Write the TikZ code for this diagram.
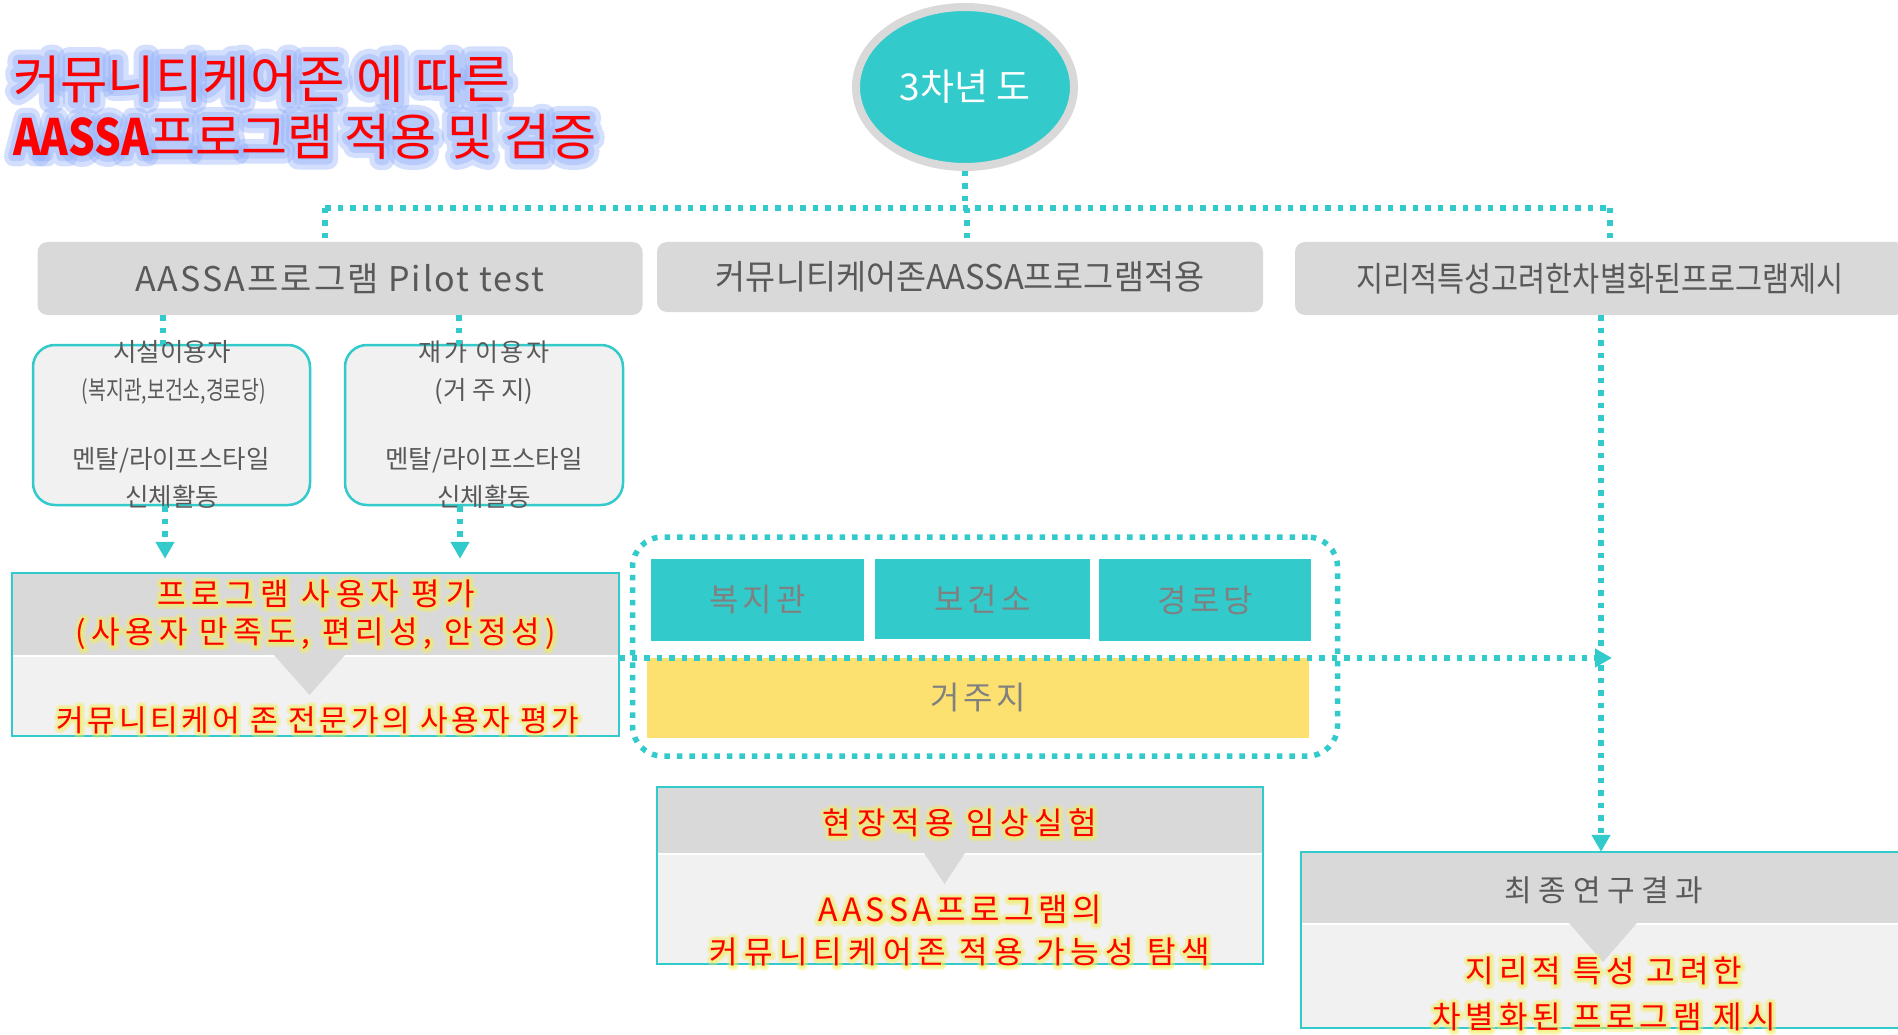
\documentclass[tikz,border=0pt]{standalone}
\usepackage{fontspec}
\usepackage{graphicx}
\setmainfont{Noto Sans CJK KR}
\usetikzlibrary{arrows.meta,calc,shapes.geometric,backgrounds}
\definecolor{teal1}{RGB}{51,202,204}
\definecolor{hdrgrey}{RGB}{217,217,217}
\definecolor{lightgrey}{RGB}{241,241,241}
\definecolor{txtgrey}{RGB}{89,89,89}
\definecolor{midgrey}{RGB}{128,128,128}
\definecolor{ylw}{RGB}{252,224,112}
\definecolor{glowy}{RGB}{242,238,90}
\definecolor{glowb}{RGB}{145,175,250}
\definecolor{redtxt}{RGB}{255,0,0}
% 1 name, 2 pos, 3 anchor, 4 glow colour, 5 wide bold, 6 narrow bold, 7 opacity, 8 font, 9 text
\newcommand{\glowtext}[9]{%
  \node[anchor=#3, text=#4, opacity=#7, line join=round, font=#8\addfontfeature{FakeBold=#5}, inner sep=0pt] at (#2) {#9};
  \node[anchor=#3, text=#4, opacity=#7, line join=round, font=#8\addfontfeature{FakeBold=#6}, inner sep=0pt] at (#2) {#9};
  \node[anchor=#3, text=redtxt, font=#8, inner sep=0pt] (#1) at (#2) {#9};}
\tikzset{
  dotline/.style={draw=teal1, line width=5.5pt, dash pattern=on 5.5pt off 7pt},
  dotarrow/.style={dotline, -{Triangle[width=18pt,length=17pt]}},
  hdr/.style={fill=hdrgrey, rounded corners=10pt, text=txtgrey, font=\fontsize{34}{40}\selectfont, inner sep=0pt},
  subbox/.style={fill=lightgrey, draw=teal1, line width=2.5pt, rounded corners=22pt, inner sep=0pt},
  subtxt/.style={text=txtgrey, font=\fontsize{25.5}{30}\selectfont, inner sep=0pt},
  tealbox/.style={fill=teal1, text=midgrey, font=\fontsize{32}{38}\selectfont\addfontfeature{LetterSpace=12}, inner sep=0pt},
  panel/.style={fill=lightgrey, inner sep=0pt},
  panelborder/.style={draw=teal1, line width=2.5pt},
}
\begin{document}
\begin{tikzpicture}[x=1pt,y=-1pt]
\useasboundingbox[fill=white] (0,0) rectangle (1898,1035);

% title
\glowtext{t1}{13,79}{west}{glowb}{42}{22}{0.4}{\fontsize{51.5}{56}\selectfont}{커뮤니티케어존 에 따른}
\glowtext{t2}{13,137}{west}{glowb}{42}{22}{0.4}{\fontsize{50}{56}\selectfont}{\scalebox{0.84}[1]{\bfseries AASSA}프로그램 적용 및 검증}

% year ellipse
\node[ellipse, fill=teal1, draw=hdrgrey, line width=8pt, minimum width=218pt, minimum height=160pt, inner sep=0pt,
      text=white, font=\fontsize{37}{44}\selectfont] (yr) at (965,87) {3차년 도};

% headers
\node[hdr, minimum width=605pt, minimum height=73pt] (h1) at (340,278.5) {\addfontfeature{LetterSpace=6}AASSA프로그램 Pilot test};
\node[hdr, minimum width=606pt, minimum height=70pt] (h2) at (960,277) {\scalebox{0.96}[1]{커뮤니티케어존AASSA프로그램적용}};
\node[hdr, minimum width=610pt, minimum height=73pt] (h3) at (1600,278.5) {\scalebox{0.865}[1]{지리적특성고려한차별화된프로그램제시}};

% bus coordinates
\coordinate (busL) at (325,208);
\coordinate (busR) at (1610,208);
\coordinate (busM) at (967,208);
\draw[dotline] (yr.south) -- (yr.south |- busM);
\draw[dotline] (busL) -- (busR);
\draw[dotline] (busL) -- (busL |- h1.north);
\draw[dotline] (busM) -- (busM |- h2.north);
\draw[dotline] (busR) -- (busR |- h3.north);

% sub boxes
\node[subbox, minimum width=277pt, minimum height=160pt] (sa) at (171.5,425) {};
\node[subbox, minimum width=278pt, minimum height=160pt] (sb) at (484,425) {};
\node[subtxt] (sa1) at (172,352) {시설이용자};
\node[subtxt] (sa2) at (174,391) {\scalebox{0.76}[1]{(복지관,보건소,경로당)}};
\node[subtxt] (sa3) at (171,460) {멘탈/라이프스타일};
\node[subtxt] (sa4) at (172,497) {신체활동};
\node[subtxt, font=\fontsize{25}{30}\selectfont\addfontfeature{LetterSpace=10}] (sb1) at (484,352) {재가 이용자};
\node[subtxt] (sb2) at (484,391) {(거 주 지)};
\node[subtxt] (sb3) at (484,460) {멘탈/라이프스타일};
\node[subtxt] (sb4) at (484,497) {신체활동};

\coordinate (xa) at (163,0);
\coordinate (xa2) at (165,0);
\coordinate (xb) at (459,0);
\coordinate (xb2) at (460,0);
\draw[dotline] (xa |- h1.south) -- (xa |- sa.north);
\draw[dotline] (xb |- h1.south) -- (xb |- sb.north);

% panel c
\node[panel, minimum width=607pt, minimum height=163pt] (pc) at (315.5,654.5) {};
\fill[hdrgrey] (pc.north west) rectangle (619,655);
\draw[white, line width=2pt] (12,656) -- (619,656);
\fill[hdrgrey] (274,655) -- (345,655) -- (309.5,695) -- cycle;
\draw[panelborder] (pc.north west) rectangle (pc.south east);
\draw[dotarrow] (xa2 |- sa.south) -- ($(xa2 |- pc.north)+(0,-14)$);
\draw[dotarrow] (xb2 |- sb.south) -- ($(xb2 |- pc.north)+(0,-14)$);
\glowtext{pc1}{316,594}{center}{glowy}{28}{14}{0.4}{\fontsize{31}{36}\selectfont\addfontfeature{LetterSpace=19}}{프로그램 사용자 평가}
\glowtext{pc2}{316,634}{center}{glowy}{28}{14}{0.4}{\fontsize{31}{36}\selectfont\addfontfeature{LetterSpace=17}}{(사용자 만족도, 편리성, 안정성)}
\glowtext{pc3}{318,720}{center}{glowy}{28}{14}{0.4}{\fontsize{30}{36}\selectfont\addfontfeature{LetterSpace=12}}{커뮤니티케어 존 전문가의 사용자 평가}

% panel d
\node[panel, minimum width=606pt, minimum height=177pt] (pd) at (960,875.5) {};
\coordinate (xd) at (960,0);
\begin{pgfonlayer}{background}
\draw[dotarrow] (xd |- h2.south) -- (xd |- pd.north);
\end{pgfonlayer}
\fill[hdrgrey] (pd.north west) rectangle (1263,853);
\draw[white, line width=2pt] (657,854) -- (1263,854);
\fill[hdrgrey] (924,853) -- (965,853) -- (944.5,884) -- cycle;
\draw[panelborder] (pd.north west) rectangle (pd.south east);
\glowtext{pd1}{960,823}{center}{glowy}{28}{14}{0.4}{\fontsize{31}{36}\selectfont\addfontfeature{LetterSpace=18}}{현장적용 임상실험}
\glowtext{pd2}{960,910}{center}{glowy}{28}{14}{0.4}{\fontsize{32}{38}\selectfont\addfontfeature{LetterSpace=14}}{AASSA프로그램의}
\glowtext{pd3}{960,952}{center}{glowy}{28}{14}{0.4}{\fontsize{31}{36}\selectfont\addfontfeature{LetterSpace=20}}{커뮤니티케어존 적용 가능성 탐색}

% group of facilities
\node[draw=teal1, line width=5.5pt, dash pattern=on 5.5pt off 7pt, rounded corners=30pt, minimum width=705pt, minimum height=219pt, inner sep=0pt] (grp) at (985,646.5) {};
\node[tealbox, minimum width=213pt, minimum height=82pt] (b1) at (757.5,600) {복지관};
\node[tealbox, minimum width=215pt, minimum height=80pt] (b2) at (982.5,599) {보건소};
\node[tealbox, minimum width=212pt, minimum height=82pt] (b3) at (1205,600) {경로당};
\node[fill=ylw, text=midgrey, font=\fontsize{32}{38}\selectfont\addfontfeature{LetterSpace=12}, inner sep=0pt, minimum width=662pt, minimum height=80pt] (gz) at (978,698) {거주지};

% panel e
\node[panel, minimum width=606pt, minimum height=176pt] (pe) at (1604,940) {};
\coordinate (xe) at (1601,0);
\fill[hdrgrey] (pe.north west) rectangle (1907,923);
\draw[white, line width=2pt] (1301,924) -- (1907,924);
\fill[hdrgrey] (1569,923) -- (1637,923) -- (1603,962) -- cycle;
\draw[panelborder] (pe.north west) rectangle (pe.south east);
\draw[dotarrow] (xe |- h3.south) -- (xe |- pe.north);
\node[text=txtgrey, font=\fontsize{30}{36}\selectfont\addfontfeature{LetterSpace=22}, inner sep=0pt] (pe0) at (1604,890) {최종연구결과};
\glowtext{pe1}{1604,971}{center}{glowy}{28}{14}{0.4}{\fontsize{31}{36}\selectfont\addfontfeature{LetterSpace=16}}{지리적 특성 고려한}
\glowtext{pe2}{1604,1017}{center}{glowy}{28}{14}{0.4}{\fontsize{31}{36}\selectfont\addfontfeature{LetterSpace=16}}{차별화된 프로그램 제시}

% horizontal arrow to right vertical
\coordinate (hx) at (1612,658);
\draw[dotarrow] (pc.east |- hx) -- (hx);
\end{tikzpicture}
\end{document}
